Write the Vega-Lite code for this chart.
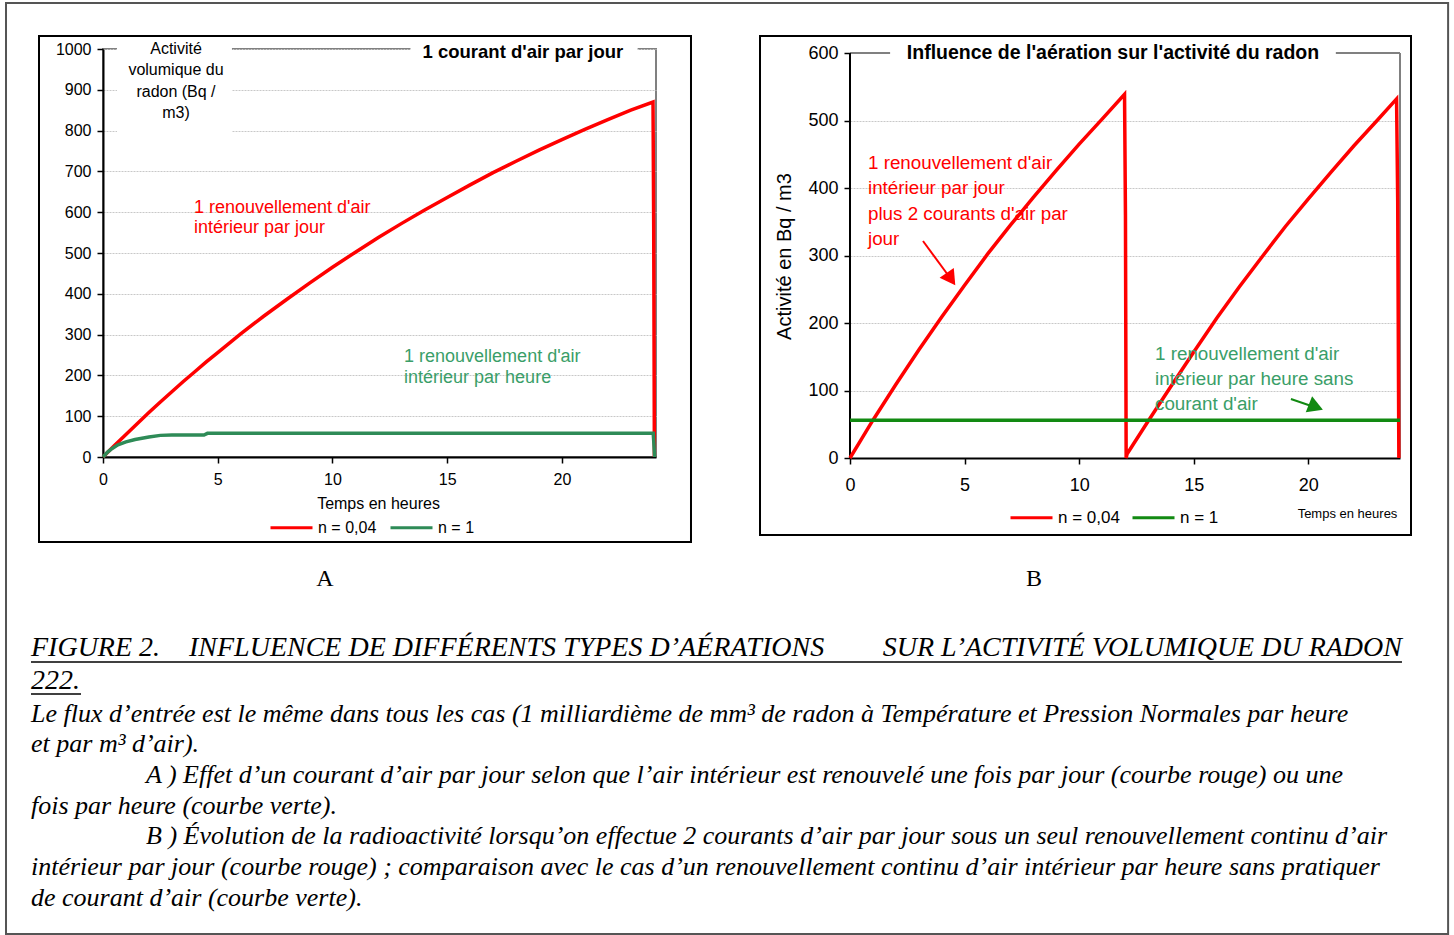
{
  "$schema": "https://vega.github.io/schema/vega-lite/v6.json",
  "background": "white",
  "padding": {"left": 4, "top": 1, "right": 0, "bottom": 0},
  "datasets": {
    "courbesA": [
      {"serie": "n = 0,04", "t": 0, "activite": 0},
      {"serie": "n = 0,04", "t": 0.5, "activite": 28},
      {"serie": "n = 0,04", "t": 1, "activite": 55},
      {"serie": "n = 0,04", "t": 1.5, "activite": 82},
      {"serie": "n = 0,04", "t": 2, "activite": 109},
      {"serie": "n = 0,04", "t": 2.5, "activite": 135},
      {"serie": "n = 0,04", "t": 3, "activite": 160},
      {"serie": "n = 0,04", "t": 3.5, "activite": 185},
      {"serie": "n = 0,04", "t": 4, "activite": 209},
      {"serie": "n = 0,04", "t": 4.5, "activite": 233},
      {"serie": "n = 0,04", "t": 5, "activite": 256},
      {"serie": "n = 0,04", "t": 6, "activite": 302},
      {"serie": "n = 0,04", "t": 7, "activite": 345},
      {"serie": "n = 0,04", "t": 8, "activite": 386},
      {"serie": "n = 0,04", "t": 9, "activite": 426},
      {"serie": "n = 0,04", "t": 10, "activite": 465},
      {"serie": "n = 0,04", "t": 11, "activite": 502},
      {"serie": "n = 0,04", "t": 12, "activite": 538},
      {"serie": "n = 0,04", "t": 13, "activite": 572},
      {"serie": "n = 0,04", "t": 14, "activite": 605},
      {"serie": "n = 0,04", "t": 15, "activite": 636},
      {"serie": "n = 0,04", "t": 16, "activite": 667},
      {"serie": "n = 0,04", "t": 17, "activite": 697},
      {"serie": "n = 0,04", "t": 18, "activite": 725},
      {"serie": "n = 0,04", "t": 19, "activite": 752},
      {"serie": "n = 0,04", "t": 20, "activite": 778},
      {"serie": "n = 0,04", "t": 21, "activite": 803},
      {"serie": "n = 0,04", "t": 22, "activite": 827},
      {"serie": "n = 0,04", "t": 23, "activite": 850},
      {"serie": "n = 0,04", "t": 23.97, "activite": 870},
      {"serie": "n = 0,04", "t": 24.0, "activite": 560},
      {"serie": "n = 0,04", "t": 24.03, "activite": 0},
      {"serie": "n = 1", "t": 0, "activite": 0},
      {"serie": "n = 1", "t": 0.2, "activite": 12},
      {"serie": "n = 1", "t": 0.4, "activite": 21},
      {"serie": "n = 1", "t": 0.65, "activite": 30},
      {"serie": "n = 1", "t": 1, "activite": 37},
      {"serie": "n = 1", "t": 1.4, "activite": 43},
      {"serie": "n = 1", "t": 2, "activite": 49},
      {"serie": "n = 1", "t": 2.5, "activite": 53},
      {"serie": "n = 1", "t": 3, "activite": 54},
      {"serie": "n = 1", "t": 4.4, "activite": 54},
      {"serie": "n = 1", "t": 4.55, "activite": 58},
      {"serie": "n = 1", "t": 10, "activite": 58},
      {"serie": "n = 1", "t": 15, "activite": 58},
      {"serie": "n = 1", "t": 20, "activite": 58},
      {"serie": "n = 1", "t": 23.98, "activite": 58},
      {"serie": "n = 1", "t": 24.0, "activite": 40},
      {"serie": "n = 1", "t": 24.04, "activite": 0}
    ],
    "courbesB": [
      {"serie": "n = 0,04", "t": 0, "activite": 0},
      {"serie": "n = 0,04", "t": 0.5, "activite": 28},
      {"serie": "n = 0,04", "t": 1, "activite": 56},
      {"serie": "n = 0,04", "t": 2, "activite": 109},
      {"serie": "n = 0,04", "t": 3, "activite": 160},
      {"serie": "n = 0,04", "t": 4, "activite": 209},
      {"serie": "n = 0,04", "t": 5, "activite": 256},
      {"serie": "n = 0,04", "t": 6, "activite": 302},
      {"serie": "n = 0,04", "t": 7, "activite": 345},
      {"serie": "n = 0,04", "t": 8, "activite": 386},
      {"serie": "n = 0,04", "t": 9, "activite": 426},
      {"serie": "n = 0,04", "t": 10, "activite": 465},
      {"serie": "n = 0,04", "t": 11, "activite": 502},
      {"serie": "n = 0,04", "t": 11.98, "activite": 539},
      {"serie": "n = 0,04", "t": 12.02, "activite": 360},
      {"serie": "n = 0,04", "t": 12.05, "activite": 0},
      {"serie": "n = 0,04", "t": 12.09, "activite": 6},
      {"serie": "n = 0,04", "t": 13, "activite": 54},
      {"serie": "n = 0,04", "t": 14, "activite": 106},
      {"serie": "n = 0,04", "t": 15, "activite": 157},
      {"serie": "n = 0,04", "t": 16, "activite": 207},
      {"serie": "n = 0,04", "t": 17, "activite": 254},
      {"serie": "n = 0,04", "t": 18, "activite": 299},
      {"serie": "n = 0,04", "t": 19, "activite": 343},
      {"serie": "n = 0,04", "t": 20, "activite": 384},
      {"serie": "n = 0,04", "t": 21, "activite": 424},
      {"serie": "n = 0,04", "t": 22, "activite": 463},
      {"serie": "n = 0,04", "t": 23, "activite": 500},
      {"serie": "n = 0,04", "t": 23.85, "activite": 532},
      {"serie": "n = 0,04", "t": 23.9, "activite": 380},
      {"serie": "n = 0,04", "t": 23.95, "activite": 0},
      {"serie": "n = 1", "t": 0, "activite": 56},
      {"serie": "n = 1", "t": 24, "activite": 56}
    ]
  },
  "config": {
    "font": "Liberation Sans",
    "view": {"stroke": "#808080", "strokeWidth": 2},
    "axis": {
      "domainColor": "black",
      "domainWidth": 2,
      "tickColor": "black",
      "tickWidth": 1.5,
      "tickSize": 6,
      "labelColor": "black",
      "labelFont": "Liberation Sans",
      "titleFont": "Liberation Sans",
      "titleFontWeight": "normal",
      "titleColor": "black",
      "gridColor": "#c8c8c8",
      "gridDash": [2, 1],
      "labelFlush": false,
      "labelOverlap": false,
      "format": "d"
    },
    "legend": {"labelFont": "Liberation Sans", "labelColor": "black", "padding": 0}
  },
  "hconcat": [
    {
      "width": 553,
      "height": 408,
      "layer": [
        {
          "data": {"values": [{}]},
          "mark": {"type": "rect", "fillOpacity": 0, "stroke": "#555555", "strokeWidth": 2},
          "encoding": {
            "x": {"datum": -4.227, "type": "quantitative"},
            "x2": {"datum": 58.62},
            "y": {"datum": 1112.7, "type": "quantitative"},
            "y2": {"datum": -1169.1}
          }
        },
        {
          "data": {"values": [{}]},
          "mark": {"type": "rect", "fillOpacity": 0, "stroke": "black", "strokeWidth": 2},
          "encoding": {
            "x": {"datum": -2.789, "type": "quantitative"},
            "x2": {"datum": 25.625},
            "y": {"datum": 1031.9, "type": "quantitative"},
            "y2": {"datum": -208.3}
          }
        },
        {
          "data": {"values": [{}]},
          "mark": {"type": "rect", "fill": "white"},
          "encoding": {
            "x": {"datum": 0.61, "type": "quantitative"},
            "x2": {"datum": 5.62},
            "y": {"datum": 1020, "type": "quantitative"},
            "y2": {"datum": 787}
          }
        },
        {
          "data": {"values": [{}]},
          "mark": {"type": "rect", "fill": "white"},
          "encoding": {
            "x": {"datum": 13.4, "type": "quantitative"},
            "x2": {"datum": 23.3},
            "y": {"datum": 1020, "type": "quantitative"},
            "y2": {"datum": 985}
          }
        },
        {
          "data": {"name": "courbesA"},
          "mark": {"type": "line", "strokeWidth": 3.5},
          "encoding": {
            "x": {
              "field": "t",
              "type": "quantitative",
              "scale": {"domain": [0, 24.1], "nice": false, "zero": false},
              "axis": {
                "values": [0, 5, 10, 15, 20],
                "labelFontSize": 16,
                "labelPadding": 8,
                "title": "Temps en heures",
                "titleFontSize": 16,
                "titleX": 275,
                "titleY": 46,
                "titleBaseline": "middle",
                "titleAlign": "center"
              }
            },
            "y": {
              "field": "activite",
              "type": "quantitative",
              "scale": {"domain": [0, 1000], "nice": false},
              "axis": {
                "values": [0, 100, 200, 300, 400, 500, 600, 700, 800, 900, 1000],
                "grid": true,
                "title": null,
                "labelFontSize": 16,
                "labelPadding": 6
              }
            },
            "color": {
              "field": "serie",
              "type": "nominal",
              "scale": {"domain": ["n = 0,04", "n = 1"], "range": ["#ff0000", "#2e8b57"]},
              "legend": {
                "orient": "none",
                "legendX": 166,
                "legendY": 456,
                "direction": "horizontal",
                "title": null,
                "symbolType": "stroke",
                "symbolSize": 1764,
                "symbolStrokeWidth": 3,
                "labelFontSize": 16,
                "labelOffset": 4,
                "columnPadding": 7
              }
            }
          }
        },
        {
          "data": {"values": [{}]},
          "mark": {"type": "text", "text": ["Activité", "volumique du", "radon (Bq /", "m3)"], "fontSize": 16, "lineHeight": 21.3, "align": "center", "baseline": "middle", "color": "black"},
          "encoding": {
            "x": {"datum": 3.181, "type": "quantitative"},
            "y": {"datum": 1000, "type": "quantitative"}
          }
        },
        {
          "data": {"values": [{}]},
          "mark": {"type": "text", "text": "1 courant d'air par jour", "fontSize": 18.5, "fontWeight": "bold", "align": "center", "baseline": "middle", "color": "black"},
          "encoding": {
            "x": {"datum": 18.3, "type": "quantitative"},
            "y": {"datum": 992.6, "type": "quantitative"}
          }
        },
        {
          "data": {"values": [{}]},
          "mark": {"type": "text", "text": ["1 renouvellement d'air", "intérieur par jour"], "fontSize": 18, "lineHeight": 20.5, "align": "left", "baseline": "middle", "color": "#ff0000"},
          "encoding": {
            "x": {"datum": 3.966, "type": "quantitative"},
            "y": {"datum": 610.3, "type": "quantitative"}
          }
        },
        {
          "data": {"values": [{}]},
          "mark": {"type": "text", "text": ["1 renouvellement d'air", "intérieur par heure"], "fontSize": 18, "lineHeight": 21, "align": "left", "baseline": "middle", "color": "#3a9e68"},
          "encoding": {
            "x": {"datum": 13.12, "type": "quantitative"},
            "y": {"datum": 245.1, "type": "quantitative"}
          }
        },
        {
          "data": {"values": [{}]},
          "mark": {"type": "text", "text": "A", "font": "Liberation Serif", "fontSize": 24, "align": "center", "baseline": "middle", "color": "black"},
          "encoding": {
            "x": {"datum": 9.675, "type": "quantitative"},
            "y": {"datum": -299, "type": "quantitative"}
          }
        },
        {
          "data": {"values": [{}]},
          "mark": {"type": "text", "text": "FIGURE 2.", "font": "Liberation Serif", "fontStyle": "italic", "fontSize": 28, "align": "left", "baseline": "middle", "color": "black"},
          "encoding": {
            "x": {"datum": -3.138, "type": "quantitative"},
            "y": {"datum": -468.1, "type": "quantitative"}
          }
        },
        {
          "data": {"values": [{}]},
          "mark": {"type": "text", "text": "INFLUENCE DE DIFFÉRENTS TYPES D’AÉRATIONS", "font": "Liberation Serif", "fontStyle": "italic", "fontSize": 28, "align": "left", "baseline": "middle", "color": "black"},
          "encoding": {
            "x": {"datum": 3.748, "type": "quantitative"},
            "y": {"datum": -468.1, "type": "quantitative"}
          }
        },
        {
          "data": {"values": [{}]},
          "mark": {"type": "text", "text": "SUR L’ACTIVITÉ VOLUMIQUE DU RADON", "font": "Liberation Serif", "fontStyle": "italic", "fontSize": 28, "align": "right", "baseline": "middle", "color": "black"},
          "encoding": {
            "x": {"datum": 56.61, "type": "quantitative"},
            "y": {"datum": -468.1, "type": "quantitative"}
          }
        },
        {
          "data": {"values": [{}]},
          "mark": {"type": "text", "text": "222.", "font": "Liberation Serif", "fontStyle": "italic", "fontSize": 28, "align": "left", "baseline": "middle", "color": "black"},
          "encoding": {
            "x": {"datum": -3.138, "type": "quantitative"},
            "y": {"datum": -549.0, "type": "quantitative"}
          }
        },
        {
          "data": {"values": [{}]},
          "mark": {"type": "rule", "color": "black", "strokeWidth": 1.5},
          "encoding": {
            "x": {"datum": -3.138, "type": "quantitative"},
            "x2": {"datum": 56.61},
            "y": {"datum": -502.5, "type": "quantitative"}
          }
        },
        {
          "data": {"values": [{}]},
          "mark": {"type": "rule", "color": "black", "strokeWidth": 1.5},
          "encoding": {
            "x": {"datum": -3.138, "type": "quantitative"},
            "x2": {"datum": -0.959},
            "y": {"datum": -580.9, "type": "quantitative"}
          }
        },
        {
          "data": {"values": [{}]},
          "mark": {"type": "text", "text": "Le flux d’entrée est le même dans tous les cas (1 milliardième de mm³ de radon à Température et Pression Normales par heure", "font": "Liberation Serif", "fontStyle": "italic", "fontSize": 26, "align": "left", "baseline": "middle", "color": "black"},
          "encoding": {
            "x": {"datum": -3.138, "type": "quantitative"},
            "y": {"datum": -629.9, "type": "quantitative"}
          }
        },
        {
          "data": {"values": [{}]},
          "mark": {"type": "text", "text": "et par m³ d’air).", "font": "Liberation Serif", "fontStyle": "italic", "fontSize": 26, "align": "left", "baseline": "middle", "color": "black"},
          "encoding": {
            "x": {"datum": -3.138, "type": "quantitative"},
            "y": {"datum": -703.4, "type": "quantitative"}
          }
        },
        {
          "data": {"values": [{}]},
          "mark": {"type": "text", "text": "A ) Effet d’un courant d’air par jour selon que l’air intérieur est renouvelé une fois par jour (courbe rouge) ou une", "font": "Liberation Serif", "fontStyle": "italic", "fontSize": 26, "align": "left", "baseline": "middle", "color": "black"},
          "encoding": {
            "x": {"datum": 1.874, "type": "quantitative"},
            "y": {"datum": -779.4, "type": "quantitative"}
          }
        },
        {
          "data": {"values": [{}]},
          "mark": {"type": "text", "text": "fois par heure (courbe verte).", "font": "Liberation Serif", "fontStyle": "italic", "fontSize": 26, "align": "left", "baseline": "middle", "color": "black"},
          "encoding": {
            "x": {"datum": -3.138, "type": "quantitative"},
            "y": {"datum": -855.4, "type": "quantitative"}
          }
        },
        {
          "data": {"values": [{}]},
          "mark": {"type": "text", "text": "B ) Évolution de la radioactivité lorsqu’on effectue 2 courants d’air par jour sous un seul renouvellement continu d’air", "font": "Liberation Serif", "fontStyle": "italic", "fontSize": 26, "align": "left", "baseline": "middle", "color": "black"},
          "encoding": {
            "x": {"datum": 1.874, "type": "quantitative"},
            "y": {"datum": -928.9, "type": "quantitative"}
          }
        },
        {
          "data": {"values": [{}]},
          "mark": {"type": "text", "text": "intérieur par jour (courbe rouge) ; comparaison avec le cas d’un renouvellement continu d’air intérieur par heure sans pratiquer", "font": "Liberation Serif", "fontStyle": "italic", "fontSize": 26, "align": "left", "baseline": "middle", "color": "black"},
          "encoding": {
            "x": {"datum": -3.138, "type": "quantitative"},
            "y": {"datum": -1004.9, "type": "quantitative"}
          }
        },
        {
          "data": {"values": [{}]},
          "mark": {"type": "text", "text": "de courant d’air (courbe verte).", "font": "Liberation Serif", "fontStyle": "italic", "fontSize": 26, "align": "left", "baseline": "middle", "color": "black"},
          "encoding": {
            "x": {"datum": -3.138, "type": "quantitative"},
            "y": {"datum": -1080.9, "type": "quantitative"}
          }
        }
      ]
    },
    {
      "width": 550,
      "height": 409,
      "view": {"stroke": null},
      "layer": [
        {
          "data": {"values": [{}]},
          "mark": {"type": "rect", "fillOpacity": 0, "stroke": "black", "strokeWidth": 2},
          "encoding": {
            "x": {"datum": -3.927, "type": "quantitative"},
            "x2": {"datum": 24.48},
            "y": {"datum": 625.3, "type": "quantitative"},
            "y2": {"datum": -114.1}
          }
        },
        {
          "data": {"values": [{}]},
          "mark": {"type": "rule", "color": "#808080", "strokeWidth": 2},
          "encoding": {
            "x": {"datum": 0, "type": "quantitative"},
            "x2": {"datum": 24},
            "y": {"datum": 600, "type": "quantitative"}
          }
        },
        {
          "data": {"values": [{}]},
          "mark": {"type": "rule", "color": "#808080", "strokeWidth": 2},
          "encoding": {
            "x": {"datum": 24, "type": "quantitative"},
            "y": {"datum": 0, "type": "quantitative"},
            "y2": {"datum": 600}
          }
        },
        {
          "data": {"values": [{}]},
          "mark": {"type": "rule", "color": "black", "strokeWidth": 2},
          "encoding": {
            "x": {"datum": 0, "type": "quantitative"},
            "y": {"datum": 0, "type": "quantitative"},
            "y2": {"datum": 600}
          }
        },
        {
          "data": {"values": [{}]},
          "mark": {"type": "rect", "fill": "white"},
          "encoding": {
            "x": {"datum": 1.75, "type": "quantitative"},
            "x2": {"datum": 21.2},
            "y": {"datum": 614, "type": "quantitative"},
            "y2": {"datum": 585}
          }
        },
        {
          "data": {"name": "courbesB"},
          "mark": {"type": "line", "strokeWidth": 3.5},
          "encoding": {
            "x": {
              "field": "t",
              "type": "quantitative",
              "scale": {"domain": [0, 24], "nice": false, "zero": false},
              "axis": {
                "values": [0, 5, 10, 15, 20],
                "labelFontSize": 18,
                "labelPadding": 12,
                "title": "Temps en heures",
                "titleFontSize": 13,
                "titleX": 497,
                "titleY": 55,
                "titleBaseline": "middle",
                "titleAlign": "center"
              }
            },
            "y": {
              "field": "activite",
              "type": "quantitative",
              "scale": {"domain": [0, 606], "nice": false},
              "axis": {
                "values": [0, 100, 200, 300, 400, 500, 600],
                "grid": true,
                "domain": false,
                "labelFontSize": 18,
                "labelPadding": 6,
                "title": "Activité en Bq / m3",
                "titleFontSize": 20,
                "titleX": -66,
                "titleY": 207,
                "titleAngle": -90,
                "titleAlign": "center",
                "titleBaseline": "middle"
              }
            },
            "color": {
              "field": "serie",
              "type": "nominal",
              "scale": {"domain": ["n = 0,04", "n = 1"], "range": ["#ff0000", "#128a12"]},
              "legend": {
                "orient": "none",
                "legendX": 159,
                "legendY": 446,
                "direction": "horizontal",
                "title": null,
                "symbolType": "stroke",
                "symbolSize": 1764,
                "symbolStrokeWidth": 3,
                "labelFontSize": 17,
                "labelOffset": 4,
                "columnPadding": 6
              }
            }
          }
        },
        {
          "data": {"values": [{}]},
          "mark": {"type": "text", "text": "Influence de l'aération sur l'activité du radon", "fontSize": 19.5, "fontWeight": "bold", "align": "center", "baseline": "middle", "color": "black"},
          "encoding": {
            "x": {"datum": 11.476, "type": "quantitative"},
            "y": {"datum": 600, "type": "quantitative"}
          }
        },
        {
          "data": {"values": [{}]},
          "mark": {"type": "text", "text": ["\u00a01 renouvellement d'air", "intérieur par jour", "plus 2 courants d'air par", "jour"], "fontSize": 18.8, "lineHeight": 25.3, "align": "left", "baseline": "middle", "color": "#ff0000"},
          "encoding": {
            "x": {"datum": 0.785, "type": "quantitative"},
            "y": {"datum": 437.1, "type": "quantitative"}
          }
        },
        {
          "data": {"values": [{}]},
          "mark": {"type": "text", "text": ["1 renouvellement d'air", "intérieur par heure sans", "courant d'air"], "fontSize": 18.8, "lineHeight": 25, "align": "left", "baseline": "middle", "color": "#3a9e68"},
          "encoding": {
            "x": {"datum": 13.31, "type": "quantitative"},
            "y": {"datum": 154.1, "type": "quantitative"}
          }
        },
        {
          "data": {"values": [{}]},
          "mark": {"type": "rule", "color": "#ff0000", "strokeWidth": 2},
          "encoding": {
            "x": {"datum": 3.185, "type": "quantitative"},
            "x2": {"datum": 4.276},
            "y": {"datum": 321.5, "type": "quantitative"},
            "y2": {"datum": 271.1}
          }
        },
        {
          "data": {"values": [{}]},
          "mark": {"type": "point", "shape": "triangle-up", "filled": true, "size": 300, "angle": 145, "color": "#ff0000", "opacity": 1},
          "encoding": {
            "x": {"datum": 4.407, "type": "quantitative"},
            "y": {"datum": 265.2, "type": "quantitative"}
          }
        },
        {
          "data": {"values": [{}]},
          "mark": {"type": "rule", "color": "#128a12", "strokeWidth": 2},
          "encoding": {
            "x": {"datum": 19.24, "type": "quantitative"},
            "x2": {"datum": 20.1},
            "y": {"datum": 87.4, "type": "quantitative"},
            "y2": {"datum": 77.5}
          }
        },
        {
          "data": {"values": [{}]},
          "mark": {"type": "point", "shape": "triangle-up", "filled": true, "size": 300, "angle": 111.5, "color": "#128a12", "opacity": 1},
          "encoding": {
            "x": {"datum": 20.33, "type": "quantitative"},
            "y": {"datum": 75.6, "type": "quantitative"}
          }
        },
        {
          "data": {"values": [{}]},
          "mark": {"type": "text", "text": "B", "font": "Liberation Serif", "fontSize": 24, "align": "center", "baseline": "middle", "color": "black"},
          "encoding": {
            "x": {"datum": 8.03, "type": "quantitative"},
            "y": {"datum": -179.3, "type": "quantitative"}
          }
        }
      ]
    }
  ],
  "spacing": 194,
  "bounds": "flush",
  "resolve": {
    "scale": {"color": "independent", "x": "independent", "y": "independent"},
    "legend": {"color": "independent"}
  }
}
